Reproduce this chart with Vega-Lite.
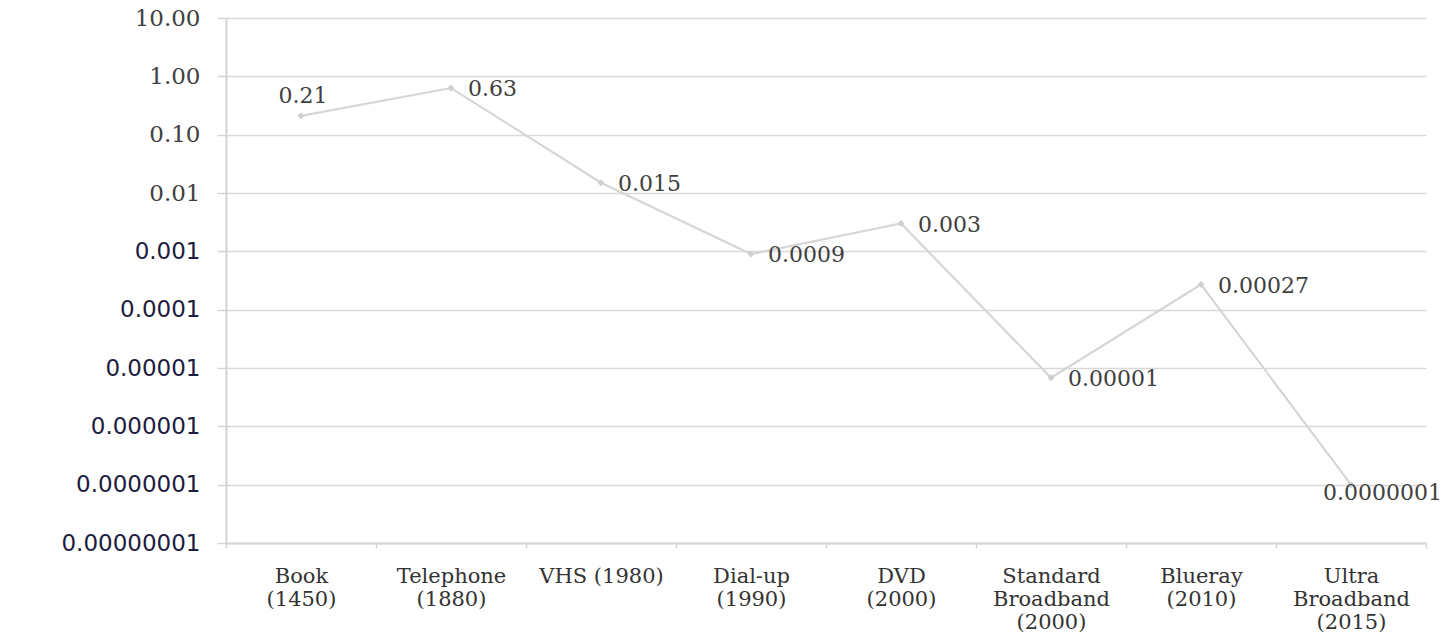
{
  "$schema": "https://vega.github.io/schema/vega-lite/v6.json",
  "autosize": "none",
  "width": 1200,
  "height": 525,
  "padding": {"left": 226, "top": 18, "right": 28, "bottom": 93},
  "background": "white",
  "config": {"view": {"stroke": null}},
  "data": {
    "values": [
      {"tech": "Book|(1450)", "value": 0.21, "label": "0.21"},
      {"tech": "Telephone|(1880)", "value": 0.63, "label": "0.63"},
      {"tech": "VHS (1980)", "value": 0.015, "label": "0.015"},
      {"tech": "Dial-up|(1990)", "value": 0.0009, "label": "0.0009"},
      {"tech": "DVD|(2000)", "value": 0.003, "label": "0.003"},
      {"tech": "Standard|Broadband|(2000)", "value": 0.0000068, "label": "0.00001"},
      {"tech": "Blueray|(2010)", "value": 0.00027, "label": "0.00027"},
      {"tech": "Ultra|Broadband|(2015)", "value": 0.0000001, "label": "0.0000001"}
    ]
  },
  "encoding": {
    "x": {
      "field": "tech",
      "type": "nominal",
      "sort": null,
      "bandPosition": 0.5,
      "scale": {"type": "band", "paddingInner": 0, "paddingOuter": 0},
      "axis": {
        "title": null,
        "labelAngle": 0,
        "labelExpr": "split(datum.label, '|')",
        "labelFont": "DejaVu Serif",
        "labelFontSize": 21,
        "labelColor": "#333333",
        "labelLineHeight": 23,
        "labelPadding": 17,
        "labelBaseline": "top",
        "tickBand": "extent",
        "tickColor": "#d4d4d4",
        "tickSize": 5,
        "tickWidth": 1.5,
        "domainColor": "#d4d4d4",
        "domainWidth": 2,
        "grid": false
      }
    },
    "y": {
      "field": "value",
      "type": "quantitative",
      "scale": {"type": "log", "domain": [0.00000001, 10], "nice": false},
      "axis": {
        "title": null,
        "values": [10, 1, 0.1, 0.01, 0.001, 0.0001, 0.00001, 0.000001, 0.0000001, 0.00000001],
        "labelExpr": "datum.value >= 0.005 ? format(datum.value, '.2f') : (format(datum.value, '.' + round(-log(datum.value)/LN10) + 'f') + '\u2007')",
        "labelFont": {"condition": {"test": "datum.value >= 0.005", "value": "DejaVu Serif"}, "value": "DejaVu Sans"},
        "labelColor": {"condition": {"test": "datum.value >= 0.005", "value": "#404040"}, "value": "#1c1c40"},
        "labelFontSize": 23,
        "labelPadding": 17,
        "tickColor": "#d4d4d4",
        "tickSize": 9,
        "tickWidth": 1.5,
        "domainColor": "#d4d4d4",
        "domainWidth": 2,
        "grid": true,
        "gridColor": "#d9d9d9",
        "gridWidth": 1.5
      }
    }
  },
  "layer": [
    {
      "mark": {"type": "line", "color": "#d6d6d6", "strokeWidth": 2.2}
    },
    {
      "mark": {"type": "point", "shape": "diamond", "filled": true, "color": "#d0d0d0", "size": 50, "opacity": 1}
    },
    {
      "transform": [{"filter": "datum.tech == 'Book|(1450)'"}],
      "mark": {"type": "text", "align": "center", "baseline": "middle", "dy": -20, "dx": 2, "font": "DejaVu Serif", "fontSize": 22, "color": "#404040"},
      "encoding": {"text": {"field": "label"}}
    },
    {
      "transform": [{"filter": "datum.tech != 'Book|(1450)' && datum.tech != 'Ultra|Broadband|(2015)'"}],
      "mark": {"type": "text", "align": "left", "baseline": "middle", "dx": 17, "dy": 1, "font": "DejaVu Serif", "fontSize": 22, "color": "#404040"},
      "encoding": {"text": {"field": "label"}}
    },
    {
      "transform": [{"filter": "datum.tech == 'Ultra|Broadband|(2015)'"}],
      "mark": {"type": "text", "align": "left", "baseline": "middle", "dx": -28, "dy": 8, "font": "DejaVu Serif", "fontSize": 22, "color": "#404040"},
      "encoding": {"text": {"field": "label"}}
    }
  ]
}
